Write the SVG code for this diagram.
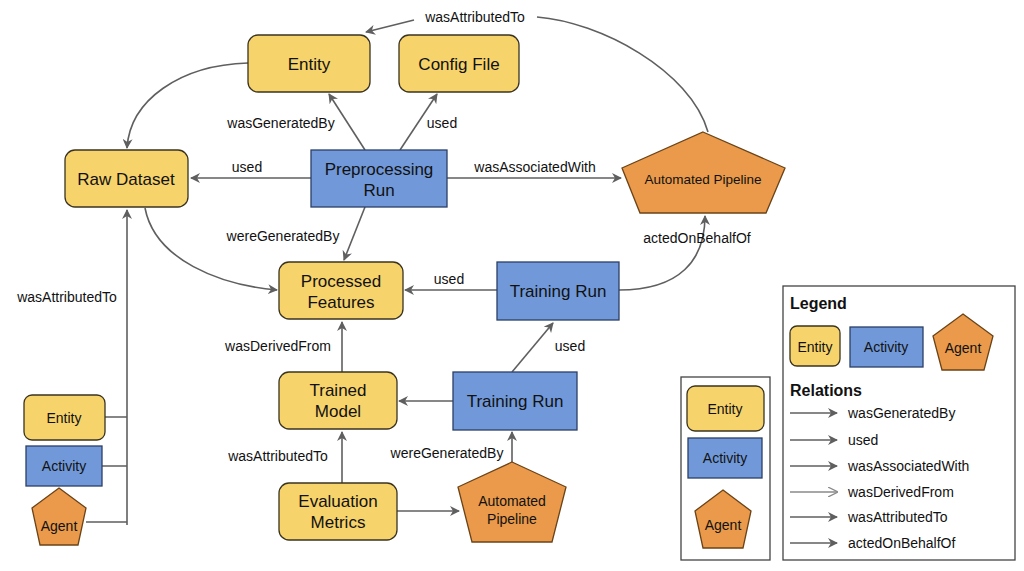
<svg xmlns="http://www.w3.org/2000/svg" width="1024" height="571" viewBox="0 0 1024 571">
<defs>
<marker id="a" markerWidth="10" markerHeight="10" refX="9" refY="5" orient="auto" markerUnits="userSpaceOnUse"><path d="M0,0 L10,5 L0,10 L3,5 Z" fill="#5f5f5f"/></marker>
<marker id="b" markerWidth="10" markerHeight="10" refX="9" refY="5" orient="auto" markerUnits="userSpaceOnUse"><path d="M0,0 L10,5 L0,10" fill="none" stroke="#8a8a8a" stroke-width="1.3"/></marker>
<style>
text{font-family:"Liberation Sans",Arial,sans-serif;fill:#111}
.e{fill:#F7D36B;stroke:#3a3320;stroke-width:1.3}
.ac{fill:#7199D9;stroke:#2b3f66;stroke-width:1.3}
.ag{fill:#EA9A4A;stroke:#6b4317;stroke-width:1.3}
.c{fill:none;stroke:#5f5f5f;stroke-width:1.6;marker-end:url(#a)}
.n{fill:none;stroke:#5f5f5f;stroke-width:1.6}
.t{font-size:17px;text-anchor:middle}
.s{font-size:14px;text-anchor:middle}
.l{font-size:14px}
.box{fill:#fff;stroke:#444;stroke-width:1.3}
</style>
</defs>
<rect width="1024" height="571" fill="#fff"/>
<g id="connectors">
<path class="n" d="M708 132 C690 70 600 22 537 17"/>
<path class="c" d="M414 20 L366 32"/>
<path class="c" d="M248 63 C180 65 130 100 127 148"/>
<path class="c" d="M365 150 L329 94"/>
<path class="c" d="M400 150 L437 94"/>
<path class="c" d="M311 178 L191 178"/>
<path class="c" d="M447 178 L621 178"/>
<path class="c" d="M365 207 L344 260"/>
<path class="c" d="M145 208 C155 260 220 285 277 290"/>
<path class="c" d="M497 290 L405 290"/>
<path class="c" d="M619 290 C680 290 705 260 705 216"/>
<path class="c" d="M512 372 L553 323"/>
<path class="c" d="M453 401 L399 401"/>
<path class="c" d="M342 372 L342 322"/>
<path class="c" d="M342 483 L342 432"/>
<path class="c" d="M397 511 L459 511"/>
<path class="c" d="M512 462 L512 432"/>
<path class="c" d="M127 525 L127 210"/>
<path class="n" d="M105 417 L127 417 M102 466 L127 466 M86 522 L127 522"/>
<text class="s" x="475" y="22">wasAttributedTo</text>
<text class="s" x="281" y="128">wasGeneratedBy</text>
<text class="s" x="442" y="128">used</text>
<text class="s" x="247" y="172">used</text>
<text class="s" x="535" y="172">wasAssociatedWith</text>
<text class="s" x="283" y="241">wereGeneratedBy</text>
<text class="s" x="449" y="284">used</text>
<text class="s" x="697" y="243">actedOnBehalfOf</text>
<text class="s" x="570" y="351">used</text>
<text class="s" x="278" y="351">wasDerivedFrom</text>
<text class="s" x="278" y="461">wasAttributedTo</text>
<text class="s" x="447" y="458">wereGeneratedBy</text>
<text class="s" x="67" y="302">wasAttributedTo</text>
</g>
<g id="entity"><rect class="e" x="248" y="35" width="122" height="57" rx="10"/><text class="t" x="309" y="70">Entity</text></g>
<g id="config"><rect class="e" x="399" y="35" width="120" height="57" rx="10"/><text class="t" x="459" y="70">Config File</text></g>
<g id="raw"><rect class="e" x="65" y="150" width="123" height="57" rx="10"/><text class="t" x="126" y="185">Raw Dataset</text></g>
<g id="prep"><rect class="ac" x="311" y="150" width="136" height="57"/><text class="t" x="379" y="175">Preprocessing</text><text class="t" x="379" y="196">Run</text></g>
<g id="ap1"><polygon class="ag" points="703,132 785,168 766,213 640,213 622,168"/><text class="s" x="703" y="184" style="font-size:13.5px">Automated Pipeline</text></g>
<g id="proc"><rect class="e" x="279" y="262" width="124" height="57" rx="10"/><text class="t" x="341" y="287">Processed</text><text class="t" x="341" y="308">Features</text></g>
<g id="tr1"><rect class="ac" x="497" y="262" width="122" height="58"/><text class="t" x="558" y="297">Training Run</text></g>
<g id="model"><rect class="e" x="279" y="372" width="118" height="57" rx="10"/><text class="t" x="338" y="396">Trained</text><text class="t" x="338" y="417">Model</text></g>
<g id="tr2"><rect class="ac" x="453" y="372" width="124" height="58"/><text class="t" x="515" y="407">Training Run</text></g>
<g id="eval"><rect class="e" x="279" y="483" width="118" height="57" rx="10"/><text class="t" x="338" y="507">Evaluation</text><text class="t" x="338" y="528">Metrics</text></g>
<g id="ap2"><polygon class="ag" points="512,462 566,487 552,542 472,542 458,487"/><text class="s" x="512" y="506">Automated</text><text class="s" x="512" y="524">Pipeline</text></g>
<g id="lent"><rect class="e" x="24" y="395" width="81" height="45" rx="8"/><text class="s" x="64" y="423">Entity</text></g>
<g id="lact"><rect class="ac" x="26" y="446" width="76" height="40"/><text class="s" x="64" y="471">Activity</text></g>
<g id="lag"><polygon class="ag" points="59,488 86,508 78,545 40,545 32,508"/><text class="s" x="59" y="531">Agent</text></g>
<g id="midlegend"><rect class="box" x="681" y="377" width="89" height="183"/>
<rect class="e" x="687" y="386" width="77" height="45" rx="8"/><text class="s" x="725" y="414">Entity</text>
<rect class="ac" x="688" y="438" width="74" height="40"/><text class="s" x="725" y="463">Activity</text>
<polygon class="ag" points="723,490 751,511 743,548 703,548 695,511"/><text class="s" x="723" y="530">Agent</text></g>
<g id="legend"><rect class="box" x="783" y="286" width="232" height="274"/>
<text x="790" y="309" style="font-size:16px;font-weight:bold">Legend</text>
<rect class="e" x="790" y="326" width="50" height="40" rx="7"/><text class="s" x="815" y="352">Entity</text>
<rect class="ac" x="850" y="327" width="73" height="40"/><text class="s" x="886" y="352">Activity</text>
<polygon class="ag" points="963,314 993,336 984,370 942,370 933,336"/><text class="s" x="963" y="353">Agent</text>
<text x="790" y="396" style="font-size:16px;font-weight:bold">Relations</text>
<path class="c" d="M790 413 L837 413"/><text class="l" x="848" y="418">wasGeneratedBy</text>
<path class="c" d="M790 440 L837 440"/><text class="l" x="848" y="445">used</text>
<path class="c" d="M790 466 L837 466"/><text class="l" x="848" y="471">wasAssociatedWith</text>
<path d="M790 492 L837 492" fill="none" stroke="#8a8a8a" stroke-width="1.4" marker-end="url(#b)"/><text class="l" x="848" y="497">wasDerivedFrom</text>
<path class="c" d="M790 517 L837 517"/><text class="l" x="848" y="522">wasAttributedTo</text>
<path class="c" d="M790 543 L837 543"/><text class="l" x="848" y="548">actedOnBehalfOf</text>
</g>
</svg>
